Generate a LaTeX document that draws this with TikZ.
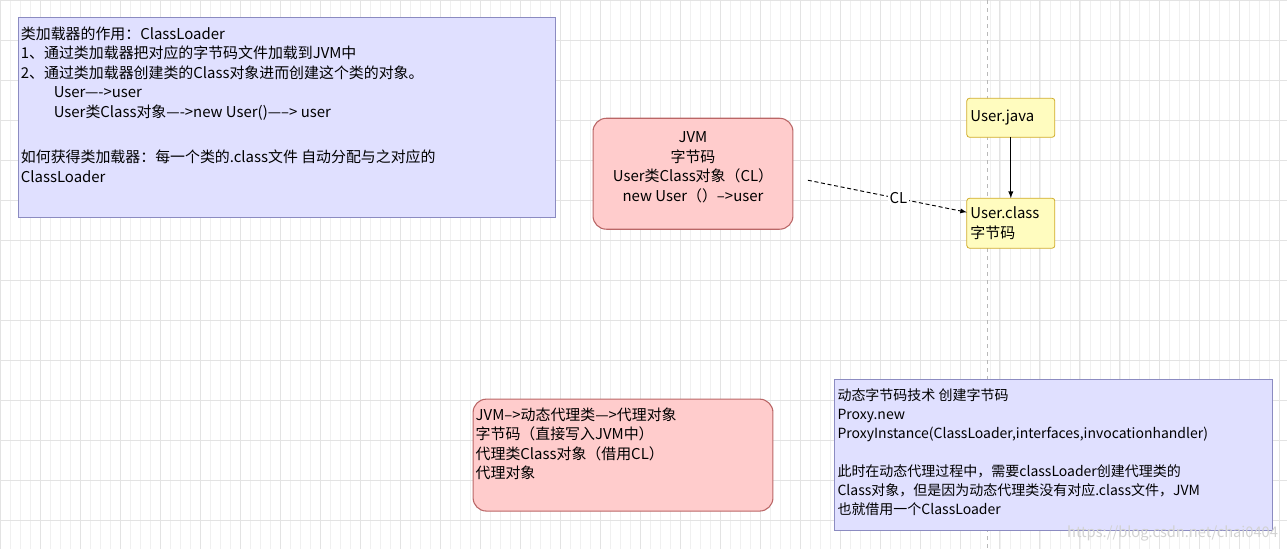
\documentclass[tikz,border=0pt]{standalone}
\usepackage{fontspec}
\setmainfont{Noto Sans CJK SC}
\begin{document}
\begin{tikzpicture}[x=0.75pt,y=-0.75pt,
  txt/.style={font=\fontsize{11.2}{14.6}\selectfont,inner sep=1pt},
  blue/.style={draw=blue!30!gray!70,fill=blue!12!white,line width=0.8pt},
  red/.style={draw=red!55!black!60,fill=red!20!white,rounded corners=10pt,line width=0.8pt},
  yel/.style={draw=yellow!60!orange!80!black,fill=yellow!25!white,rounded corners=2pt,line width=0.6pt}]
\fill[white] (0,0) rectangle (1287,549);
\draw[gray!12,line width=0.4pt] (0,0) grid[step=10] (1287,549);
\foreach \x in {0,40,...,1280} \draw[gray!22,line width=0.5pt] (\x,0)--(\x,549);
\foreach \y in {0,40,...,540} \draw[gray!22,line width=0.5pt] (0,\y)--(1287,\y);
\useasboundingbox (0,0) rectangle (1287,549);
\draw[gray!55,dashed,line width=0.7pt] (988,0)--(988,549);
\draw[blue] (18,17) rectangle (555,217);
\node[txt,anchor=north west,align=left] (a) at (19,25) {类加载器的作用：ClassLoader\\1、通过类加载器把对应的字节码文件加载到JVM中\\2、通过类加载器创建类的Class对象进而创建这个类的对象。\\\hspace{2.2em}User----{}>user\\\hspace{2.2em}User类Class对象----{}>new User()-----{}> user\\[19.5pt]如何获得类加载器：每一个类的.class文件 自动分配与之对应的\\ClassLoader};
\draw[red] (593,118) rectangle (793,229);
\node[txt,align=center] (jvm) at (693,167) {JVM\\字节码\\User类Class对象（CL）\\new User（）--{}>user};
\draw[yel] (967,98) rectangle (1055,137);
\node[txt,anchor=west] (uj) at (969,117) {User.java};
\draw[yel] (967,198) rectangle (1055,248);
\node[txt,anchor=north west,align=left] (uc) at (969,205) {User.class\\字节码};
\coordinate (ujb) at (1011,137);
\coordinate (uct) at (1011,198);
\draw[-{latex},line width=0.8pt] (ujb)--(uct);
\coordinate (cls) at (808,180);
\coordinate (cle) at (967,212);
\draw[densely dashed,-{latex},line width=0.7pt] (cls)--node[txt,fill=white,inner sep=1pt,pos=0.57] {CL} (cle);
\draw[red] (473,399) rectangle (773,511);
\node[txt,anchor=north west,align=left] (b) at (474,406) {JVM--{}>动态代理类---{}>代理对象\\字节码（直接写入JVM中）\\代理类Class对象（借用CL）\\代理对象};
\draw[blue] (835,379) rectangle (1273,530);
\node[txt,anchor=north west,align=left,font=\fontsize{10.5}{14.2}\selectfont] (c) at (836,387) {动态字节码技术 创建字节码\\Proxy.new\\ProxyInstance(ClassLoader,interfaces,invocationhandler)\\[14.2pt]此时在动态代理过程中，需要classLoader创建代理类的\\Class对象，但是因为动态代理类没有对应.class文件，JVM\\也就借用一个ClassLoader};
\node[font=\fontsize{11}{12}\selectfont,text=gray!35,anchor=east] (w) at (1283,533) {https://blog.csdn.net/chai0404};
\end{tikzpicture}
\end{document}
